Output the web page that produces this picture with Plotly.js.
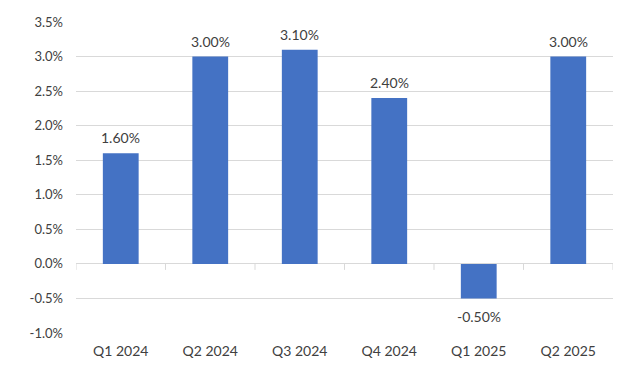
<!DOCTYPE html>
<html>
<head>
<meta charset="utf-8">
<script src="https://cdn.plot.ly/plotly-3.0.1.min.js"></script>
<style>
html,body{margin:0;padding:0;background:#fff;}
#chart text{font-variant-numeric:oldstyle-nums;}
</style>
</head>
<body>
<div id="chart" style="width:627px;height:391px;"></div>
<script>
const categories = ["Q1 2024","Q2 2024","Q3 2024","Q4 2024","Q1 2025","Q2 2025"];
const growth = [1.60, 3.00, 3.10, 2.40, -0.50, 3.00];
const yTicks = [-1.0,-0.5,0.0,0.5,1.0,1.5,2.0,2.5,3.0,3.5];

const font = "Lato, 'Open Sans', sans-serif";
const textColor = "#404040";

// category divider ticks on the zero line
const shapes = [];
for (let i = 0; i <= categories.length; i++) {
  shapes.push({
    type: "line", xref: "x", yref: "y",
    ysizemode: "pixel", yanchor: 0,
    x0: i - 0.5, x1: i - 0.5, y0: 0, y1: -6,
    line: {color: "#d9d9d9", width: 1}
  });
}

const trace = {
  type: "bar",
  x: categories,
  y: growth,
  marker: {color: "#4472C4"},
  width: 0.4,
  hoverinfo: "skip"
};

// data labels placed via annotations in data coordinates
const annotations = categories.map((c, i) => ({
  x: c, y: growth[i], xref: "x", yref: "y",
  text: growth[i].toFixed(2) + "%",
  showarrow: false,
  yanchor: growth[i] >= 0 ? "bottom" : "top",
  yshift: growth[i] >= 0 ? 5 : -8,
  font: {family: font, size: 14, color: textColor}
}));

const layout = {
  width: 627, height: 391,
  margin: {l: 76, r: 14, t: 22, b: 58},
  paper_bgcolor: "#fff", plot_bgcolor: "#fff",
  showlegend: false,
  font: {family: font, color: textColor, size: 13},
  xaxis: {
    type: "category",
    range: [-0.5, categories.length - 0.5],
    showgrid: false, showline: false, zeroline: false,
    ticks: "", tickfont: {family: font, size: 14, color: textColor},
    ticklabelstandoff: 8
  },
  yaxis: {
    range: [-1.0, 3.5],
    tickvals: yTicks,
    ticktext: yTicks.map(v => v.toFixed(1) + "%"),
    showgrid: true, gridcolor: "#d9d9d9", gridwidth: 1,
    zeroline: true, zerolinecolor: "#d9d9d9", zerolinewidth: 1,
    showline: false, ticks: "",
    tickfont: {family: font, size: 13, color: textColor},
    ticklabelstandoff: 12
  },
  shapes: shapes,
  annotations: annotations
};

Plotly.newPlot("chart", [trace], layout, {displayModeBar: false, staticPlot: true});
</script>
</body>
</html>
